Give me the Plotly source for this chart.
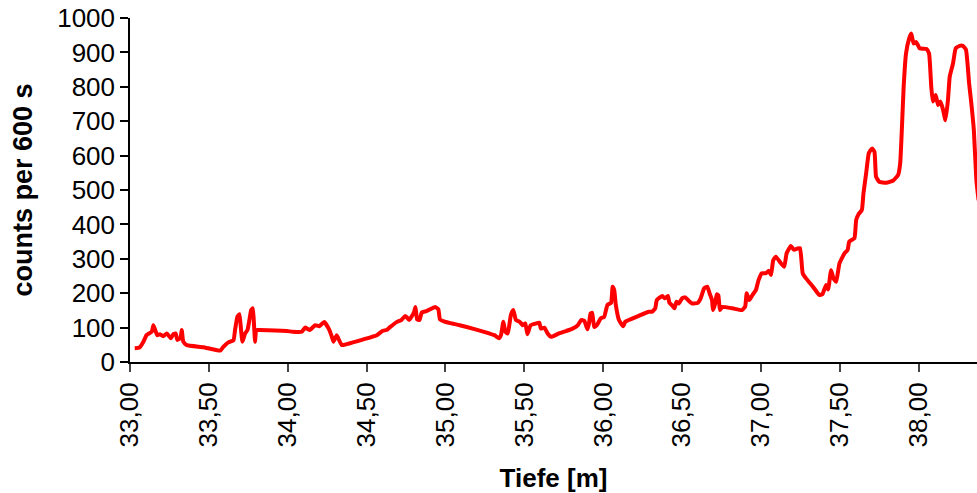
import plotly.graph_objects as go

depth = [
    33.03, 33.06, 33.085, 33.105, 33.138, 33.148, 33.16, 33.173, 33.19, 33.21,
    33.233, 33.26, 33.275, 33.29, 33.3, 33.32, 33.328, 33.338, 33.36, 33.465,
    33.571, 33.59, 33.624, 33.656, 33.666, 33.681, 33.694, 33.704, 33.713, 33.73,
    33.745, 33.757, 33.768, 33.779, 33.787, 33.793, 33.80, 33.82, 33.994, 34.03,
    34.089, 34.11, 34.14, 34.174, 34.2, 34.231, 34.26, 34.28, 34.29, 34.31,
    34.32, 34.343, 34.374, 34.48, 34.565, 34.6, 34.63, 34.65, 34.69, 34.72,
    34.745, 34.755, 34.77, 34.8, 34.81, 34.82, 34.835, 34.85, 34.88, 34.935,
    34.955, 34.965, 34.99, 35.03,
    35.09, 35.19, 35.31, 35.34, 35.352, 35.367, 35.38, 35.395, 35.415, 35.43,
    35.447, 35.47, 35.49, 35.506, 35.52, 35.54, 35.574, 35.595, 35.605, 35.627,
    35.648, 35.67, 35.72, 35.764, 35.806, 35.84, 35.86, 35.88, 35.9, 35.91,
    35.92, 35.93, 35.943, 35.96, 35.985, 36.006, 36.027, 36.05, 36.06, 36.07,
    36.08, 36.1, 36.127, 36.14, 36.225, 36.29, 36.31, 36.33, 36.34, 36.375,
    36.39, 36.41, 36.42, 36.44, 36.452, 36.464, 36.48, 36.5, 36.52, 36.54,
    36.565, 36.6, 36.618, 36.64, 36.66, 36.675, 36.69, 36.696, 36.71, 36.72,
    36.73, 36.74, 36.755, 36.82, 36.88,
    36.9, 36.91, 36.926, 36.947, 36.968, 36.985, 37.006, 37.03, 37.05, 37.064,
    37.078, 37.095, 37.127, 37.148, 37.163, 37.19, 37.21, 37.233, 37.248, 37.265,
    37.286, 37.33, 37.37, 37.39, 37.413, 37.426, 37.445, 37.46, 37.477, 37.498,
    37.53, 37.55, 37.56, 37.593, 37.604, 37.62, 37.64, 37.65, 37.667, 37.684,
    37.705, 37.72, 37.73, 37.75, 37.795, 37.837, 37.87, 37.883, 37.896, 37.905,
    37.92, 37.94, 37.953, 37.968, 37.985, 38.006, 38.05, 38.066, 38.08, 38.09,
    38.108, 38.123, 38.138, 38.155, 38.17, 38.186, 38.197, 38.218, 38.235, 38.26,
    38.28, 38.3, 38.32, 38.334, 38.35, 38.366, 38.38,
]

counts = [
    40, 42, 59, 78, 88, 107, 93, 78, 81, 75,
    83, 69, 81, 83, 64, 70, 93, 59, 49, 43,
    33, 43, 57, 63, 93, 132, 139, 93, 59, 83,
    93, 122, 151, 156, 102, 59, 93, 93, 90, 88,
    88, 100, 93, 107, 104, 116, 97, 73, 59, 78,
    69, 49, 52, 66, 78, 90, 94, 102, 116, 122,
    134, 130, 122, 144, 160, 124, 122, 144, 148, 160,
    153, 124, 118, 113,
    107, 95, 78, 69, 78, 117, 88, 83, 137, 151,
    122, 117, 107, 112, 81, 107, 112, 114, 97, 100,
    83, 73, 83, 90, 97, 107, 122, 120, 95, 112,
    141, 143, 102, 107, 127, 131, 166, 172, 219, 209,
    166, 122, 104, 117, 134, 146, 146, 156, 180, 192,
    185, 192, 172, 163, 156, 175, 170, 185, 188, 179,
    170, 172, 185, 214, 219, 199, 180, 151, 170, 197,
    194, 151, 160, 156, 151,
    161, 200, 180, 195, 209, 238, 258, 258, 265, 253,
    296, 306, 287, 277, 316, 337, 326, 330, 331, 258,
    243, 219, 195, 197, 224, 211, 267, 243, 233, 287,
    316, 326, 350, 360, 413, 430, 442, 490, 548, 607,
    621, 611, 539, 524, 521, 527, 544, 578, 703, 800,
    897, 941, 955, 926, 930, 912, 910, 897, 800, 757,
    776, 747, 757, 733, 703, 762, 829, 868, 912, 919,
    919, 908, 810, 752, 674, 529, 470,
]

x_tickvals = [33.0, 33.5, 34.0, 34.5, 35.0, 35.5, 36.0, 36.5, 37.0, 37.5, 38.0]
x_ticktext = ["33,00", "33,50", "34,00", "34,50", "35,00", "35,50",
              "36,00", "36,50", "37,00", "37,50", "38,00"]
y_tickvals = [0, 100, 200, 300, 400, 500, 600, 700, 800, 900, 1000]

FONT = "Liberation Sans, Arial, sans-serif"

fig = go.Figure()
fig.add_trace(go.Scatter(
    x=depth, y=counts, mode="lines",
    line=dict(color="#FF0000", width=4, shape="spline", smoothing=0.4),
    showlegend=False,
))

fig.update_layout(
    width=977, height=493,
    margin=dict(l=130, r=0, t=18, b=131),
    paper_bgcolor="white", plot_bgcolor="white",
    font=dict(family=FONT, size=26, color="black"),
)

fig.update_xaxes(
    range=[33.0, 38.37],
    tickmode="array", tickvals=x_tickvals, ticktext=x_ticktext,
    tickangle=-90,
    ticks="outside", ticklen=8, tickwidth=1.5, tickcolor="#444",
    showline=True, linecolor="black", linewidth=2,
    showgrid=False, zeroline=False,
    tickfont=dict(family=FONT, size=26, color="black"),
    title=dict(text="<b>Tiefe [m]</b>", standoff=22,
               font=dict(family=FONT, size=26, color="black")),
)

fig.update_yaxes(
    range=[0, 1000],
    tickmode="array", tickvals=y_tickvals,
    ticks="outside", ticklen=8, tickwidth=1.5, tickcolor="black",
    showline=True, linecolor="black", linewidth=1.5,
    showgrid=False, zeroline=False,
    tickfont=dict(family=FONT, size=26, color="black"),
    title=dict(text="<b>counts per 600 s</b>", standoff=17,
               font=dict(family=FONT, size=27, color="black")),
)

fig.write_html("out.html")
